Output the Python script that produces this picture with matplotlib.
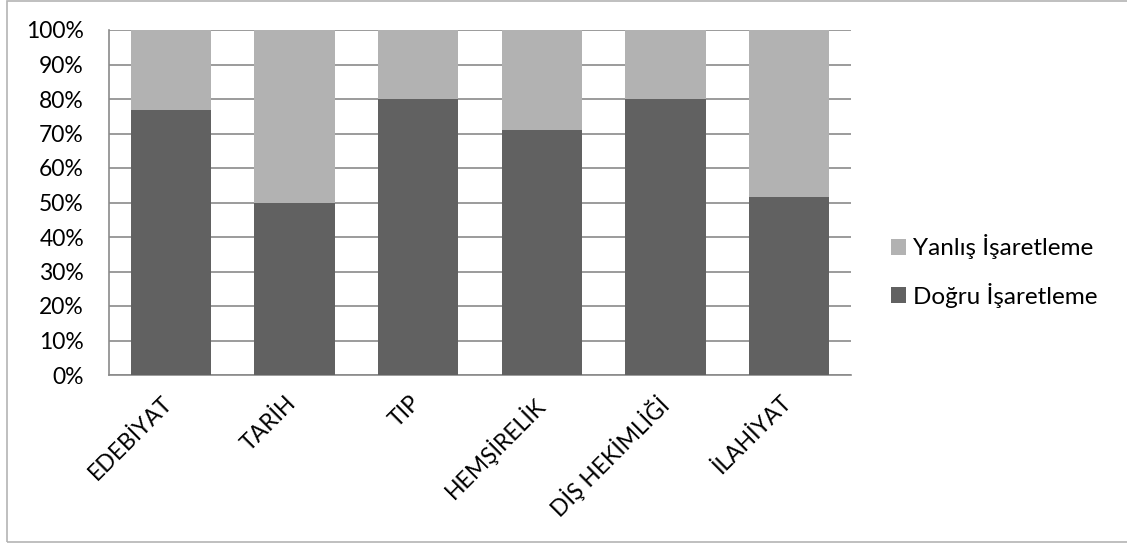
import numpy as np
import matplotlib
matplotlib.use('Agg')
import matplotlib.pyplot as plt
from matplotlib.patches import Rectangle
from matplotlib.ticker import FuncFormatter
import matplotlib.transforms as mtransforms

plt.rcParams['font.family'] = ['Lato', 'DejaVu Sans']

# Data (percent of answers)
categories = ['EDEBİYAT', 'TARİH', 'TIP', 'HEMŞİRELİK', 'DİŞ HEKİMLİĞİ', 'İLAHİYAT']
dogru = [76.7, 49.8, 80.0, 71.0, 80.0, 51.6]
yanlis = [100 - v for v in dogru]

dark = '#616161'
light = '#b2b2b2'
grid_col = '#8a8a8a'
fs = 16.5

W, H = 1127, 544
fig = plt.figure(figsize=(W / 100, H / 100), dpi=100)
ax = fig.add_axes([109 / W, 1 - 375 / H, (851 - 109) / W, (375 - 30) / H])

x = np.arange(len(categories))
ax.bar(x, dogru, width=0.65, color=dark, label='Doğru İşaretleme', zorder=3)
ax.bar(x, yanlis, width=0.65, bottom=dogru, color=light, label='Yanlış İşaretleme', zorder=3)

ax.set_xlim(-0.5, len(categories) - 0.5)
ax.set_ylim(0, 100)
ax.set_yticks(np.arange(0, 101, 10))
ax.yaxis.set_major_formatter(FuncFormatter(lambda v, p: f'{int(v)}%'))
ax.grid(axis='y', color=grid_col, linewidth=1.2, zorder=0)

for s in ['top', 'right']:
    ax.spines[s].set_visible(False)
for s in ['left', 'bottom']:
    ax.spines[s].set_color(grid_col)
    ax.spines[s].set_linewidth(1.2)
ax.tick_params(axis='y', length=0, labelsize=fs, pad=18)
ax.tick_params(axis='x', length=0, labelsize=fs, pad=0)

ax.set_xticks(x)
ax.set_xticklabels(categories, rotation=45, ha='right', va='top', rotation_mode='anchor')
offset = mtransforms.ScaledTranslation(-9 / 100, -17 / 100, fig.dpi_scale_trans)
for lbl in ax.get_xticklabels():
    lbl.set_transform(lbl.get_transform() + offset)

# legend, light series on top, centred on the figure height
handles, labels = ax.get_legend_handles_labels()
fig.legend(handles[::-1], labels[::-1], loc='center left',
           bbox_to_anchor=(891 / W, 1 - 271 / H),
           frameon=False, fontsize=17.5, handlelength=0.62, handleheight=0.62,
           handletextpad=0.3, labelspacing=0.95, borderaxespad=0, borderpad=0)

# chart frame
fig.patches.append(Rectangle((7 / W, 2 / H), 1.1, 1 - 3 / H,
                             transform=fig.transFigure, fill=False,
                             edgecolor='#b4b4b4', linewidth=1.2))

fig.savefig('out.png', dpi=100)
